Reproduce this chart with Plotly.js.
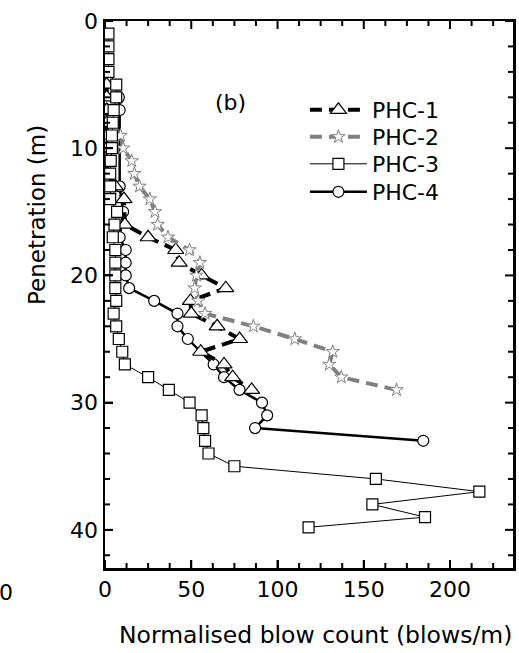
<!DOCTYPE html>
<html>
<head>
<meta charset="utf-8">
<script src="https://cdn.plot.ly/plotly-3.0.1.min.js"></script>
<style>html,body{margin:0;padding:0;background:#fff;}#chart{width:519px;height:653px;}</style>
</head>
<body>
<div id="chart"></div>
<script>
// PHC-1 (triangles)
const phc1Depth = [5, 6, 7, 8, 9, 10, 11, 12, 13, 14, 16, 17, 18, 19, 20, 21, 22, 23, 24, 25, 26, 27, 28, 29];
const phc1Blows = [1, 1, 1, 1, 1, 1, 1, 1, 6, 11, 11.5, 25, 41, 43, 56, 70, 49.5, 50, 65, 78, 55.5, 69, 74, 85];
// PHC-2 (stars)
const phc2Depth = [9, 10, 11, 12, 13, 14, 15, 16, 17, 18, 19, 20, 21, 22, 23, 24, 25, 26, 27, 28, 29];
const phc2Blows = [9, 10.5, 15.5, 17, 20, 26, 29, 30.5, 36.5, 49, 55, 53, 52, 54, 58, 86, 110, 132, 130, 137, 169];
// PHC-3 (squares)
const phc3Depth = [1, 2, 3, 4, 5, 6, 7, 8, 9, 10, 11, 12, 13, 14, 15, 16, 17, 18, 19, 20, 21, 22, 23, 24, 25, 26, 27, 28, 29, 30, 31, 32, 33, 34, 35, 36, 37, 38, 39, 39.8];
const phc3Blows = [2, 2, 2, 2, 6.5, 6.5, 5, 4.5, 4, 4, 3.3, 3, 3, 3, 7, 5.5, 4.5, 6, 6, 6, 6, 6.5, 5, 6.5, 8, 10, 11.5, 25, 37, 49, 56, 57, 58, 60, 75, 157, 217, 155, 185.5, 118];
// PHC-4 (circles)
const phc4Depth = [6, 7, 13, 15, 17, 18, 19, 20, 21, 22, 23, 24, 25, 27, 28, 29, 30, 31, 32, 33];
const phc4Blows = [8, 8.5, 8.5, 10.5, 8.5, 12, 12, 12, 14, 28.5, 42, 42, 48, 63, 69, 78, 91, 94, 87, 184.5];

const seriesNames = ["PHC-1", "PHC-2", "PHC-3", "PHC-4"];
const xRange = [0, 236.5], yRange = [43, 0];
const xTickStep = 50, xMinorStep = 12.5;
const yTickStep = 10, yMinorStep = 2;

const FONT = "DejaVu Sans, Arial, sans-serif";

const tr4 = {
  x: phc4Blows, y: phc4Depth, name: seriesNames[3], legend: "legend4",
  mode: "lines+markers", type: "scatter",
  line: {color: "#000", width: 2.5},
  marker: {symbol: "circle", size: 11, color: "#fff", line: {color: "#000", width: 1.2}}
};
const tr1 = {
  x: phc1Blows, y: phc1Depth, name: seriesNames[0], legend: "legend",
  mode: "lines+markers", type: "scatter",
  line: {color: "#000", width: 4, dash: "12px,7px"},
  marker: {symbol: "triangle-up", size: 14, color: "#fff", line: {color: "#000", width: 1.2}}
};
const tr2 = {
  x: phc2Blows, y: phc2Depth, name: seriesNames[1], legend: "legend2",
  mode: "lines+markers", type: "scatter",
  line: {color: "#808080", width: 4, dash: "12px,7px"},
  marker: {symbol: "star", size: 10, color: "#fff", line: {color: "#808080", width: 1}}
};
const tr3 = {
  x: phc3Blows, y: phc3Depth, name: seriesNames[2], legend: "legend3",
  mode: "lines+markers", type: "scatter",
  line: {color: "#000", width: 1},
  marker: {symbol: "square", size: 11, color: "#fff", line: {color: "#000", width: 1.2}}
};

// Tick marks drawn inside the frame on all four sides, placed through the axes' own scales.
function tickShapes() {
  const shapes = [];
  const TICK = {color: "#000", width: 2};
  for (let v = 0; v <= xRange[1] + 1e-9; v += xMinorStep) {
    const len = (Math.abs(v / xTickStep - Math.round(v / xTickStep)) < 1e-9) ? 8 : 5;
    shapes.push({type: "line", xref: "x", yref: "paper", ysizemode: "pixel", yanchor: 0,
                 x0: v, x1: v, y0: 0, y1: len, line: TICK});
    shapes.push({type: "line", xref: "x", yref: "paper", ysizemode: "pixel", yanchor: 1,
                 x0: v, x1: v, y0: 0, y1: -len, line: TICK});
  }
  for (let v = 0; v <= yRange[0] + 1e-9; v += yMinorStep) {
    const len = (v % yTickStep === 0) ? 8 : 5;
    shapes.push({type: "line", xref: "paper", yref: "y", xsizemode: "pixel", xanchor: 0,
                 x0: 0, x1: len, y0: v, y1: v, line: TICK});
    shapes.push({type: "line", xref: "paper", yref: "y", xsizemode: "pixel", xanchor: 1,
                 x0: 0, x1: -len, y0: v, y1: v, line: TICK});
  }
  return shapes;
}

function axis(range, step) {
  return {
    range: range, showgrid: false, zeroline: false, showline: true, linecolor: "#000", linewidth: 2.5,
    mirror: true, ticks: "inside", ticklen: 8, tickwidth: 2, tickcolor: "#000",
    tickmode: "linear", tick0: 0, dtick: step,
    tickfont: {family: FONT, size: 22, color: "#000"}
  };
}
function legendAt(rowY) {
  return {
    x: 0.49, y: 1 - (rowY - 21) / 547, xanchor: "left", yanchor: "middle",
    bgcolor: "rgba(0,0,0,0)", borderwidth: 0,
    font: {family: FONT, size: 22, color: "#000"},
    itemwidth: 57
  };
}

const layout = {
  width: 519, height: 653,
  margin: {l: 105, r: 6, t: 21, b: 85},
  paper_bgcolor: "#fff", plot_bgcolor: "#fff",
  font: {family: FONT, color: "#000"},
  showlegend: true,
  legend: legendAt(110),
  legend2: legendAt(137),
  legend3: legendAt(164),
  legend4: legendAt(192),
  xaxis: axis(xRange, xTickStep),
  yaxis: axis(yRange, yTickStep),
  shapes: tickShapes(),
  annotations: [
    {text: "Penetration (m)", textangle: -90, xref: "paper", yref: "paper",
     x: (37 - 105) / 408, y: 1 - (215 - 21) / 547, xanchor: "center", yanchor: "middle",
     showarrow: false, font: {family: FONT, size: 23, color: "#000"}},
    {text: "Normalised blow count (blows/m)", xref: "paper", yref: "paper",
     x: (315 - 105) / 408, y: -(635 - 568) / 547, xanchor: "center", yanchor: "middle",
     showarrow: false, font: {family: FONT, size: 23.5, color: "#000"}},
    {text: "(b)", xref: "paper", yref: "paper",
     x: (230 - 105) / 408, y: 1 - (102 - 21) / 547, xanchor: "center", yanchor: "middle",
     showarrow: false, font: {family: FONT, size: 22, color: "#000"}},
    {text: "0", xref: "paper", yref: "paper",
     x: (15 - 105) / 408, y: -(592 - 568) / 547, xanchor: "right", yanchor: "middle",
     showarrow: false, font: {family: FONT, size: 22, color: "#000"}}
  ]
};

Plotly.newPlot("chart", [tr4, tr1, tr2, tr3], layout, {displayModeBar: false, staticPlot: true});
</script>
</body>
</html>
